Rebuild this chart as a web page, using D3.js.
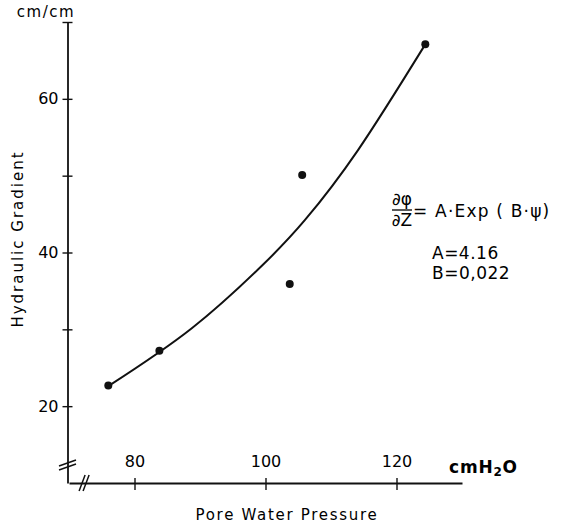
<!DOCTYPE html>
<html>
<head>
<meta charset="utf-8">
<script src="https://cdn.jsdelivr.net/npm/d3@7"></script>
<style>
  body { margin: 0; background: #fff; }
  svg { display: block; font-family: 'DejaVu Sans', sans-serif; }
  text { fill: #000; }
</style>
</head>
<body>
<svg id="chart" width="564" height="525"></svg>
<script>
// measured points
const pressure = [76.0, 83.8, 103.7, 105.6, 124.4];
const gradient = [22.7, 27.2, 35.9, 50.1, 67.1];

// fitted curve
const curveX = [76.0, 88.7, 99.6, 106.0, 114.1, 124.4];
const curveY = [22.6, 30.1, 38.4, 44.2, 53.3, 67.1];

const xTicks = [80, 100, 120];
const yTicks = [20, 30, 40, 50, 60, 70];
const yLabels = [20, 40, 60];

const svg = d3.select('#chart');

const x = d3.scaleLinear().domain([70, 130]).range([69, 462]);
const y = d3.scaleLinear().domain([10, 70]).range([483, 22]);

const ink = '#111';

// y axis
const $yAxis = svg.append('g').attr('transform', `translate(${x(70) - 1.5},0)`)
  .call(d3.axisLeft(y).tickValues(yTicks).tickSize(5).tickSizeOuter(0)
    .tickFormat(d => yLabels.includes(d) ? d : ''));
$yAxis.select('.domain').attr('stroke', ink).attr('stroke-width', 1.8);
$yAxis.selectAll('.tick line').attr('x1', 5).attr('x2', -5).attr('stroke', ink).attr('stroke-width', 1.4);
$yAxis.selectAll('.tick text').attr('x', -9).attr('font-size', 16).attr('font-family', 'DejaVu Sans');

// x axis
const $xAxis = svg.append('g').attr('transform', `translate(0,${y(10)})`)
  .call(d3.axisBottom(x).tickValues(xTicks).tickSize(6).tickSizeOuter(0));
$xAxis.select('.domain').attr('stroke', ink).attr('stroke-width', 1.8);
$xAxis.selectAll('.tick line').attr('y1', -5).attr('y2', 7).attr('stroke', ink).attr('stroke-width', 1.4);
$xAxis.selectAll('.tick text').attr('y', -27).attr('dy', '0.71em')
  .attr('font-size', 16).attr('font-family', 'DejaVu Sans');

// axis breaks
const yBreak = 12.6, xBreak = 72.0;
const $breaks = svg.append('g').attr('stroke', ink).attr('stroke-width', 1.5);
[0, 4].forEach(off => {
  $breaks.append('line')
    .attr('x1', x(70) - 10).attr('y1', y(yBreak) + 3 + off)
    .attr('x2', x(70) + 7).attr('y2', y(yBreak) - 3 + off);
  $breaks.append('line')
    .attr('x1', x(xBreak) - 3 + off).attr('y1', y(10) + 8)
    .attr('x2', x(xBreak) + 3 + off).attr('y2', y(10) - 8);
});

// fitted curve
const line = d3.line().x(d => x(d[0])).y(d => y(d[1])).curve(d3.curveNatural);
svg.append('path')
  .datum(d3.zip(curveX, curveY))
  .attr('d', line)
  .attr('fill', 'none')
  .attr('stroke', ink)
  .attr('stroke-width', 2);

// data points
svg.append('g').selectAll('circle')
  .data(d3.zip(pressure, gradient))
  .join('circle')
  .attr('cx', d => x(d[0]))
  .attr('cy', d => y(d[1]))
  .attr('r', 4)
  .attr('fill', ink);

// labels
svg.append('text').attr('x', 46).attr('y', 17).attr('text-anchor', 'middle')
  .attr('font-size', 15).attr('letter-spacing', 1.5).text('cm/cm');

svg.append('text').attr('transform', 'translate(23,239) rotate(-90)')
  .attr('text-anchor', 'middle').attr('font-size', 15).attr('letter-spacing', 2)
  .text('Hydraulic  Gradient');

svg.append('text').attr('x', 287).attr('y', 520).attr('text-anchor', 'middle')
  .attr('font-size', 15).attr('letter-spacing', 1.7).text('Pore  Water  Pressure');

const $unit = svg.append('text').attr('x', 449).attr('y', 473)
  .attr('font-size', 17).attr('font-weight', 'bold').attr('letter-spacing', 0.8);
$unit.append('tspan').text('cmH');
$unit.append('tspan').attr('font-size', 12).attr('dy', 3).text('2');
$unit.append('tspan').attr('dy', -3).text('O');

// equation
const $eq = svg.append('g').attr('font-size', 17);
$eq.append('text').attr('x', 402).attr('y', 205).attr('text-anchor', 'middle').text('∂φ');
$eq.append('line').attr('x1', 392).attr('x2', 412).attr('y1', 210).attr('y2', 210)
  .attr('stroke', ink).attr('stroke-width', 1.4);
$eq.append('text').attr('x', 402).attr('y', 226).attr('text-anchor', 'middle').text('∂Z');
$eq.append('text').attr('x', 413).attr('y', 217).attr('letter-spacing', 1.2).text('= A·Exp ( B·ψ)');
$eq.append('text').attr('x', 432).attr('y', 259).attr('letter-spacing', 0.5).text('A=4.16');
$eq.append('text').attr('x', 432).attr('y', 279).attr('letter-spacing', 0.5).text('B=0,022');
</script>
</body>
</html>
